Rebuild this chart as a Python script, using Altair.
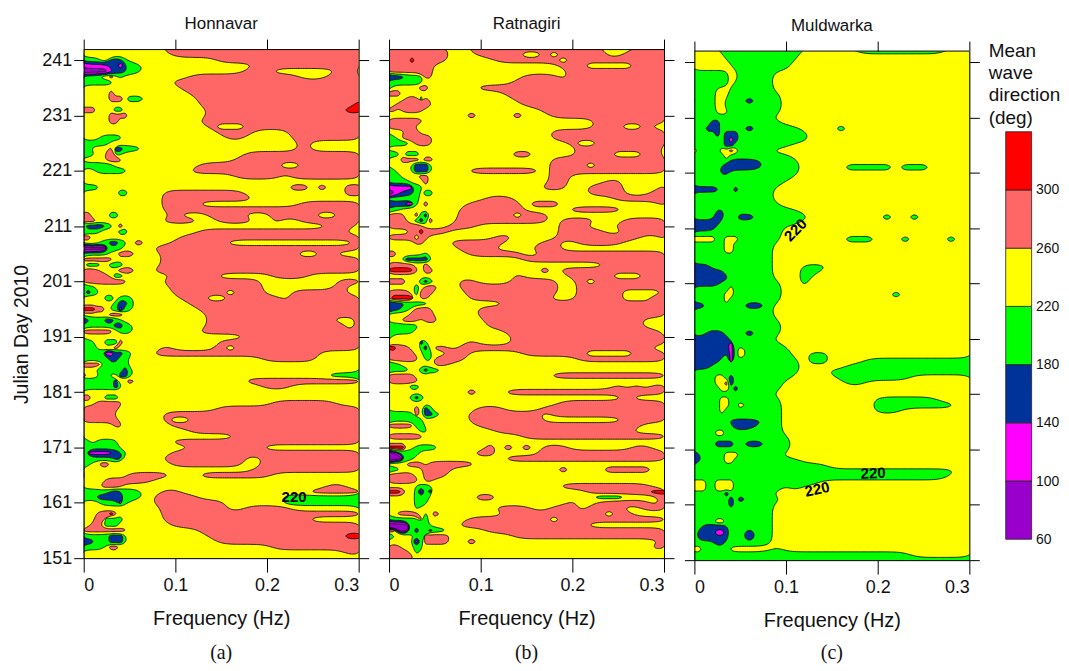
import altair as alt
import pandas as pd
import numpy as np

alt.data_transformers.disable_max_rows()

# Node frequencies (Hz) of the digitised grids: 11 low, 5 mid, 10 + 10 high
FREQS = [0, .005, .01, .015, .02, .025, .03, .035, .04, .045, .05,
         .06, .07, .08, .09, .10,
         .11, .12, .13, .14, .15, .16, .17, .18, .19, .20,
         .21, .22, .23, .24, .25, .26, .27, .28, .29, .30]
FIRST_DAY = 243
# Band letters: P 60-100, M 100-140, B 140-180, G 180-220, Y 220-260, S 260-300, R 300+
CLASSES = list("PMBGYSR")
COLORS = ["#9900cc", "#ff00ff", "#003399", "#00ff00", "#ffff00", "#ff6666", "#ff0000"]
EDGES = [60, 100, 140, 180, 220, 260, 300, 340]

# Each row = one day, from day 243 down to 151; parts are low/mid/high/high, last letter repeats
HONNAVAR = """Y YYYSS S S
Y YYYYS S S
GGGGYYBBBGY Y YYYYSSSSSS S
MMMMMMBBMBG GYYYY YYYYYYYYSS S
PPPPPPMBBBG GYYYY YYYYYYYSSS YYYYYYYSSY
GGGGYYSYGYY Y YSSSSSSSSS SSSYYYSSSS
GGGGGGGYYYY YYYYS S S
Y Y S S
YYYYYYSYYYY Y YS S
YYYYYYSSSYG GYYYY YYS S
Y Y YYS SSSSSSSSSR
SSSYYYYGGYY Y YYYS SSSSSSSSRR
YYYYYYSSSSY Y YYYS S
YYYYYYSSYYY Y YYS S
Y Y YYYSYYYS S
Y Y YYYYSSSSYY YYS
YYYYGGGGGYY Y YYYYYSSY YYS
GGGGGGYYYYY Y Y YYYSY
GGYYYYSBBGG GYYYY Y YYYSY
GGGYYSSGGYY Y YYYYYYYS S
YYYYYSSSSYY Y YYYYYYS S
GGGGGGGYYYY Y YYS SYYS
YYYGGGGGGGY Y YS S
Y Y YYYYYYS SYS
Y
GGGGY Y Y YYSSYSYYSS
YYYYYYYYGGY YYYSS SSSSSSSY YYYYYYYYSS
Y YYYSS SSSSSSSSY Y
Y YYYSS SSY YYYS
Y YYYSS S S
SSYYYYGGY YYYYS YYYSSSSY SSSSSYYS
SSSY YYYSS SSYYSSSSY SYYS
GBBBBGGYSY Y Y YYYYYYSSSY
GGGGYYYYGGY Y YYS SSSSSSSSYY
SSY Y S S
YYYYGGBBGGY SYYYS SSSSSY YYYYYYYYYS
PPPPPPGGGY YYS S S
GGGGGGYYS YYYS S SSSYYSSY
SSSSSSSY YYYS S S
YGGGYYGGGY YYYS S S
SSSSYYYYS YYS S S
SSSSSSYGGY YYYYS SSSSY SSSSY
SSSSSSSSSSY YYYS SSSSSSSSSY YYYYYYYS
GGGY YYYYS SSSSSSSSSY YYYYYYYSY
GBGGY YYYYS SSSSSYSSSY YYSSSSSSY
YYYYYGGYG Y SSSYYS SYS
YYYYYYYGBBG Y YS S
RRRSSYGGMGG Y YYS S
YYYYYYSSSY Y YYYS S
BBGGGBBGGY Y YYYS SSSSSSSYYS
GGGGGGGBBG Y YYYS SSSSSSSSYS
SSSSSSSYG Y YYS S
Y Y YYYYYYYS S
GGGYYGGGSY Y YYYYS S
GGGYYYYSY YYYSY YYYYSYS S
GGGGGMMBBG YYS S SSSSSY
GGGGGGBBGGY Y YYYYYYYYYS SSSSSY
SSSSYGGGGGY
YYYGGGGGGBG
SYYYGGYYBBG Y Y YYYYYYG
GGGGGGGBYYS Y YYYYYYYS S
GGGGGGGBGY Y YYYYYYYYYS SSY
Y
SSYYYGGGY
YYYSSSSSSY Y Y SSSSSSSY
SSSSSSSSY Y YYYYS S
SSSSSSSY YYYS S S
SSSSSSSSY YYYSY YS S
YYYYYYYSSY YYYYS S S
Y Y YS S
Y Y YYYYYYS S
GGYGGGGGY YYYYS S S
GGGGGGGGY Y YSSSSSSSSY Y
GMMMMMMBBGY YYYYS S S
GGGGGGGBBY YYYS SSSSSSSYYS S
GGYYSSY YYYYS SSSSSSSYYS S
Y Y YYYYYYYYS S
GYYYYYYYYYS SSSSY YYS Y
YYYYYS SSY
YYYYSSSSSY Y Y YYYYYYSSY
GGGGGGBBBG GYYS Y YYYYS
GGGBBBBBBG GYS SSY YG
YYYYGGGGMGY YYS SSSSSY YG
Y YYYS SSSSSYYS SSY
YYYSSSRSY YYYS S S
YYYSSGGGGY YYYS S SSSSY
YYSSYGGGY YYYYS S S
SSSSSSSSSSY Y YYS S
GGGGGGBBBGY Y YYYS SSSSSSSSR
BBBGGGBBBGY Y YYYYS S
GGGGGYSSY Y Y S
Y Y Y YYYYYYYYS
Y""".split("\n")

RATNAGIRI = """S SYYS SSSSSSSSSS SSSYYYS
S SYYYS SSSSYYSYS SSSYYS
SSSSSRS SYYYY YSSSSSSSYS S
SSSSSSSSSSY Y YYYYYYYYS SYYYYYS
SSSSSSSSSSY Y YYYYYYYYYS S
BBBBGGGGSSY Y YYYYSSSSYS S
GGGGGGGGY Y YYYS S
GYYYYYYSSY YYYYS S S
SSSY Y YYS S
YYYYSSSGSY Y YYYS S
YYSSSSSSSSY Y YYYYS S
SSYSSSSSY Y YYYYYYS S
Y YYYSY YYYSYYYS S
SSSSSSSSY Y Y YYS
SSSSSSY Y Y YYSSSYYSYY
YYYYSSSY Y YYYYYYYS S
GGYSSSSSSSY Y YYYYYYYS S
GGGGGYSSSSY Y YYYYYYYYYS YYS
Y Y Y SSSSSSSSSY
GGGYGGGY Y YYYSSY SSSSYYYSSY
YYYSSSSYSSY Y YYYYYYYS S
YYYYYGBBBGY Y YYYYYYYS SYS
GGYYYGBBBGY YYYSS SSSSSSYSSS S
GGGYYYYSSY Y YYYYYYYSSY Y
GGGGGYYYSY Y YYYYYYYSSY YYYSSY
MMMMMMGGY Y YYYYYYSSSY YSSSSYYYYS
PPMBBBGYGGY Y Y YSSSSYYYSS
GGGGGGGY Y SSSY YYYYS
BBBBMMGYSY YYYSS SSSSYSSSY YYYYYYYYYS
GGGY YYS SSSSYYYYYS SSSSSY
SSSSYYSGBY YYS SSSYSSSY Y
SSSSYYGBGSY YYS SSSSSSSYSS SSYYYS
SSSSSSSSY YSSSY YYYYYYYYS SYYYS
YYYYYSSRS SY YYYYYYYYS SSSYYS
SSSSSSYSSY Y YSSYYYYYSS SSSSSSSYYS
YYYYYYSSY YSSSS SSYYYYSSYY SSSSSY
Y YYS SYYYYSSSY Y
SSYYYYYYGY YYYS SSSSYYS S
YYYGBBBBBGY Y YYYYS S
SSSSSSYYSY Y Y YYYS
RRRRRRSYSSY Y YYYYYYSYS S
Y Y YYYSYYYYYS SSSSYYYS
SSSSYYYGBGY YYSSY YYYSSSSSYY SYS
YYYYYYGYSSS YYS SSSSSSSSY S
SSSSSYGSSSY YYYS SSSSSSSSY SSSSSYYYYS
SRRRRRYSSY YYYS SSSSSSSY SSSSSYYYS
BBBBGGGGGY Y YYS S
BBBGGYSSSSY YYYYS S S
YYYYYSSSSSY YYYYS S S
YYYSSSSYSSS Y S SSSSSSSY
GGGGGGGY Y S SSSSSSSY
GGGGGGY Y YYS SSSSSSSSSY
GY Y YYYS S
YYYYYYYBGY YYYSY YYYS S
RRSSSYYGBYS SYS S SSSSSSSSY
YSSSSSYYGGY YSSY YYYYS SYYYYYS
SSSSSSSYGGS SSSY Y S
GGGYYYYYYYS SY
GGGGGYYGBGG
SSSSSSY Y YYYYYYYS S
SSSSSSSY
YYYYYGGY Y Y YYYYSYSYS
Y YYYSY YYS S
YYYYYGBGY Y Y YYYYYSY
Y Y YYYYYYYYS S
YYYYYYSYBGY YYYYS SSYYYYS S
GGGGGGSYBBG YYYS SSSSSSYS S
GGGGGGGGY YYYS SSSSSSY YYYYYS
SSSSSSGGY YYYYS S SSSSSSSY
YYYYYYYGGY Y YS SSSSSSY
SSSSSSSSY Y YYYYS S
Y
RRRRYYGGGGG Y SYSYSYSSSY YYYYYYSSY
PPBGGGGY YYYYS SYYYYYSSSS S
PPPPGGY Y YYS S
YYYYSSSSYSS SSSSY
GGGYYYYYSSS SY YYYYYYYYSY YYYSSSSSY
SSSSSSYYS SY
SSSSSSSYSSY
YYYYYYGGGGY Y YYYYYYYYS SSSSSSSSY
RRRSYYGMGBY Y Y YSSSSSSSR
YYYYYYGGGY YYYYS SY YYGGGYYYYS
YYYYYYGGGY Y YYYYYYYYYS YYSSSSSSYS
YYYYYYGY Y YSSSSYYSSS YSSSSYYS
YYSSSSSYGYS Y YYS SSSYSSY
GGGGGGGSGY YYYS SSSSSSSYS S
PPPPPGGGGY YYS S SY
SSPPPGBGGBG GY S S
GGYYYYGGS SY YYYS S
YYYYYGMGS SYYSY Y YYYYYYYYYS S
SSSYYYGGY Y Y YYYYYYYYS
SSSSSYGY
SSSSSSY""".split("\n")

MULDWARKA = """YYYYYYGBGGG G GYYYYYYGGG GGGGGGGY
YYYYYYYG G GY
YYYYYYYYG G Y
YYYYYYYYYG G Y
GGGGGGGGYYG GGGY
GGGGGGGGYYG GGGY
GGGGGGGGYGG GGGY
GGGGGYYYG GGGY
GGGGGYYYG GGGGY
BGGGGYYG BGGGY
GGGGGYYG GGGGY
GGGGGYYYG GGGGY
G GGGY
GGGGBBG GGGGY
GGGBBBG BGGGG GYYYYGY
GGGGGBGBBBG G GGY
GGGGGGGBMBG G GGY
GGGGGGGBBG G Y
YGGGGGYYSYG GGGY
GGGGGGGYG G Y
GGGGGGGGBBB BBG GY
GGGGGGBBBBB BBG GYYYYYGGGG GYGGGY
GGGGGGBBG G GY
G G Y
G GGGGY
BBBBBBGGGBG GGGY
G GGGY
G GGGY
G GGGGY
GGGGGBBG G GY
GGGGGBBGGGB BG GGY GYYGY
BBBBBBG G GY
BBBBBG GGGGY
G GGGGY
YYYYYGGYYYG GGGGY YYYYYYGGGY YYGYYYYGY
GGGGGGGYYG GGGY
GGGGGGGYYG GGGY
G GGGY
G GGGY
BBBBG GGGY YGGGY
BBBBBBBG GGGY YGGY
BBBBBBBBG GGGY YGY
BBBBBBG GGGGY YGY
GGGGGGGGYG GGGGY
GGGGGGGYYG GGGGY Y YGY
GGGGGGGYG GGGGY
BBBG BBGY
G GGGY
G GGGY
G GGGGY
G GGGGY
GGGBBBBG BGGGY
BBBBBBBBG GGGY
BBBBBBBBMG GGGGY
BBBBBBBBMGY G Y
BBBBBBBGMGY G YYGGY
BBBBBBGGMG G GYGGYYYYG G
BBBBG G GYYYYYG G
G G GYYYG G
BGGGGYYGBG G YYYYYG GGGY
GGGGGYYSBG GGGGY YYYYYYGGY
GGGGGGYYGBG GGGGY
G GGGY
GGGGGGYYG GGGGY YYYYYYYYYG GGGGGGY
GGGGGGYYGGY GGGGY YYYYYYYYYG GGGGGGGGY
GGGGGGYG GGGGY YYYYYYYYYG GGY
G GGGGY
GGGGGGGGB BBGGY
GGGGGGGGGB BGGGY
GGGGGYYG GGGGY
G G Y
GGGGGBBBBG BBG Y
G G Y
BBGGGGGYYYG GGGGY
BBGGGGGYYG G GY
G G GGGGY
G G G GGGGGGGGY
G G G GGGGGGGY
YYYGGYYYYG G GGGY
YYYGGYYYYG GGGGY GY
GGGGGGGBG GGGY
GGGGGGGGBGB GGGGY
GGGGGGGGBG GGGY
G GGGY
G GGGY
GGGGGYYG GGGY
GGBBBBBBG GGGY
GBBBBMMBG BGGY
GBBBBBBBG BGGY
GGGGGBBG GGGY
YYGGGGGGY YYYGY
G G G GGGY
G G G G""".split("\n")

TITLES = ["Honnavar", "Ratnagiri", "Muldwarka"]
CAPTIONS = ["(a)", "(b)", "(c)"]
Y_TICKS = [151, 161, 171, 181, 191, 201, 211, 221, 231, 241]
X_TICKS = [0, 0.1, 0.2, 0.3]
# contour labels: panel, frequency, day, angle
LABEL_PANEL = [0, 2, 2, 2]
LABEL_FREQ = [0.2295, 0.1105, 0.134, 0.195]
LABEL_DAY = [162.0, 210.7, 163.8, 166.7]
LABEL_ANGLE = [0, 315, 348, 358]
LEGEND_LINES = ["Mean", "wave", "direction", "(deg)"]


def expand(rows):
    sizes = [11, 5, 10, 10]
    out = []
    for r in rows:
        parts = r.split()
        parts += ["Y"] * (4 - len(parts))
        s = "".join(p.ljust(n, p[-1])[:n] for p, n in zip(parts, sizes))
        out.append([CLASSES.index(c) for c in s])
    return np.array(out, dtype=float)


def trace(grid, xs, ys, level):
    ny, nx = grid.shape
    t = level - 0.5
    def pt(a, b):
        va, vb = grid[a], grid[b]
        u = (t - va) / (vb - va)
        return (xs[a[1]] + u * (xs[b[1]] - xs[a[1]]), ys[a[0]] + u * (ys[b[0]] - ys[a[0]]))
    nxt = {}
    coords = {}
    for i in range(ny - 1):
        for j in range(nx - 1):
            c = [(i, j), (i, j + 1), (i + 1, j + 1), (i + 1, j)]
            hi = [grid[p] >= t for p in c]
            if all(hi) or not any(hi):
                continue
            for k in range(4):
                if hi[k] and not hi[(k + 1) % 4]:
                    m = 1
                    while not (not hi[(k + m) % 4] and hi[(k + m + 1) % 4]):
                        m += 1
                    e1 = frozenset((c[k], c[(k + 1) % 4]))
                    e2 = frozenset((c[(k + m) % 4], c[(k + m + 1) % 4]))
                    coords[e1] = pt(c[k], c[(k + 1) % 4])
                    coords[e2] = pt(c[(k + m) % 4], c[(k + m + 1) % 4])
                    nxt[e1] = e2
    out = []
    while nxt:
        start = next(iter(nxt))
        cur = start
        loop = []
        while cur in nxt:
            loop.append(coords[cur])
            cur = nxt.pop(cur)
        out.append(np.array(loop))
    return out


def chaikin(p, passes=2):
    if len(p) > 12:
        for _ in range(2):
            p = 0.25 * np.roll(p, 1, axis=0) + 0.5 * p + 0.25 * np.roll(p, -1, axis=0)
    for _ in range(passes):
        q = np.roll(p, -1, axis=0)
        a = 0.75 * p + 0.25 * q
        b = 0.25 * p + 0.75 * q
        p = np.empty((2 * len(a), 2))
        p[0::2] = a
        p[1::2] = b
    return p


def contour_frame(rows):
    g = expand(rows)[::-1]
    days = np.array([FIRST_DAY - i for i in range(len(rows))][::-1], dtype=float)
    fr = np.array(FREQS, dtype=float)
    low = g.min() - 1
    grid = np.full((g.shape[0] + 2, g.shape[1] + 2), low)
    grid[1:-1, 1:-1] = g
    xs = np.concatenate([[fr[0] - 0.03], fr, [fr[-1] + 0.03]])
    ys = np.concatenate([[days[0] - 6], days, [days[-1] + 6]])
    items = []
    for level in range(int(g.min()), int(g.max()) + 1):
        for lp in trace(grid, xs, ys, level):
            x, y = lp[:, 0], lp[:, 1]
            area = 0.5 * np.sum(x * np.roll(y, -1) - np.roll(x, -1) * y)
            cls = level if area > 0 else level - 1
            items.append((abs(area), cls, lp))
    items.sort(key=lambda it: -it[0])
    recs = []
    for n, (_, cls, lp) in enumerate(items):
        s = chaikin(lp)
        s = np.vstack([s, s[:1]])
        for k, (fx, dy) in enumerate(s):
            recs.append({"f": round(float(fx), 5), "d": round(float(dy), 3), "loop": n, "k": k, "c": CLASSES[cls]})
    return pd.DataFrame(recs)


W, H = 276, 511
XS = alt.Scale(domain=[0, 0.3], nice=False, zero=False)
FONT = "Liberation Sans"


def panel(i, rows):
    df = contour_frame(rows)
    drop = 2 if i == 2 else 0  # the third panel sits slightly lower on the page
    YS = alt.Scale(domain=[151, 243], nice=False, zero=False, range=[H + drop, drop])
    base = alt.Chart(df).mark_line(stroke="#000000", strokeWidth=0.8, clip=True, interpolate="linear").encode(
        x=alt.X("f:Q", scale=XS, title="Frequency (Hz)", axis=alt.Axis(
            values=X_TICKS, format="~g", tickSize=14, labelPadding=4, grid=False,
            domainColor="black", tickColor="black", labelColor="#111", zindex=1,
            titleColor="#111", titlePadding=15)),
        y=alt.Y("d:Q", scale=YS, title="Julian Day 2010" if i == 0 else None, axis=alt.Axis(
            values=Y_TICKS, format="d", tickSize=10, labelPadding=2, grid=False, labels=(i == 0),
            domainColor="black", tickColor="black", labelColor="#111", zindex=1,
            titleColor="#111", titlePadding=10, titleY=286, titleFontSize=19.5)),
        fill=alt.Fill("c:N", scale=alt.Scale(domain=CLASSES, range=COLORS), legend=None),
        detail="loop:Q",
        order="k:Q",
    )
    lab = pd.DataFrame({"f": LABEL_FREQ, "d": LABEL_DAY, "a": LABEL_ANGLE, "p": LABEL_PANEL, "t": "220"})
    lab = lab[lab.p == i]
    layers = [base]
    if drop:
        layers.append(alt.Chart(pd.DataFrame({"t": [0]})).mark_rect(color="white", stroke="white", strokeWidth=0.5).encode(
            x=alt.value(-1), x2=alt.value(W + 1), y=alt.value(-1), y2=alt.value(drop)))
        layers.append(alt.Chart(pd.DataFrame({"f0": [0.0], "f1": [0.3], "d": [243.0]})).mark_rule(
            color="black", strokeWidth=1
        ).encode(x=alt.X("f0:Q", scale=XS, axis=None), x2="f1:Q", y=alt.Y("d:Q", scale=YS, axis=None)))
    for _, r in lab.iterrows():
        layers.append(alt.Chart(pd.DataFrame([r])).mark_text(
            fontSize=15, font=FONT, fontWeight="bold", angle=int(r.a), color="black"
        ).encode(x=alt.X("f:Q", scale=XS, axis=None), y=alt.Y("d:Q", scale=YS, axis=None), text="t:N"))
    frame = alt.Chart(pd.DataFrame({"f": [0.0], "d": [151.0]})).mark_point(opacity=0).encode(
        x=alt.X("f:Q", scale=XS, title=None, axis=alt.Axis(
            orient="top", values=X_TICKS, labels=False, tickSize=10, grid=False, offset=-drop,
            domain=(drop == 0), domainColor="black", tickColor="black", zindex=1)),
        y=alt.Y("d:Q", scale=YS, title=None, axis=alt.Axis(
            orient="right", values=Y_TICKS, labels=False, tickSize=10, grid=False,
            domainColor="black", tickColor="black", zindex=1)),
    )
    cap = alt.Chart(pd.DataFrame({"t": [CAPTIONS[i]]})).mark_text(
        font="Liberation Serif", fontSize=20, color="#111"
    ).encode(x=alt.value(W / 2), y=alt.value(H + 95), text="t:N")
    layers += [frame, cap]
    return alt.layer(*layers).resolve_axis(x="independent", y="independent").properties(
        width=W, height=H + drop,
        title=alt.TitleParams(TITLES[i], fontSize=17, font=FONT, fontWeight="normal", color="#111",
                              offset=6, anchor="middle"),
    )


leg = pd.DataFrame({"lo": EDGES[:-1], "hi": EDGES[1:], "c": CLASSES})
LEG_Y = alt.Scale(domain=[47.0, 396.8], nice=False, zero=False)
bar = alt.Chart(leg).mark_rect(stroke="#222", strokeWidth=0.8).encode(
    y=alt.Y("lo:Q", scale=LEG_Y, title=None, axis=alt.Axis(
        orient="right", values=EDGES[:-1], domain=False, ticks=False, grid=False,
        labelFontSize=14, labelColor="#111", labelPadding=4, format="d")),
    y2="hi:Q",
    x=alt.value(17), x2=alt.value(43),
    fill=alt.Fill("c:N", scale=alt.Scale(domain=CLASSES, range=COLORS), legend=None),
)
txt = alt.Chart(pd.DataFrame({"t": LEGEND_LINES, "n": [0, 1, 2, 3]})).transform_calculate(
    py="datum.n * 22.3 + 2"
).mark_text(align="left", baseline="middle", fontSize=19, font=FONT, color="#111").encode(
    x=alt.value(0), y=alt.Y("py:Q", scale=None), text="t:N")
legend = alt.layer(bar, txt).resolve_scale(fill="independent").properties(width=43, height=H)

chart = alt.hconcat(
    panel(0, HONNAVAR), panel(1, RATNAGIRI), panel(2, MULDWARKA), legend, spacing=8.5
).configure_view(stroke=None).configure_axis(
    labelFont=FONT, titleFont=FONT, labelFontSize=18, titleFontSize=20, titleFontWeight="normal"
).properties(padding={"left": 3, "top": 5, "right": 0, "bottom": 2})

chart.save("out.html", embed_options={"renderer": "svg", "actions": False})
